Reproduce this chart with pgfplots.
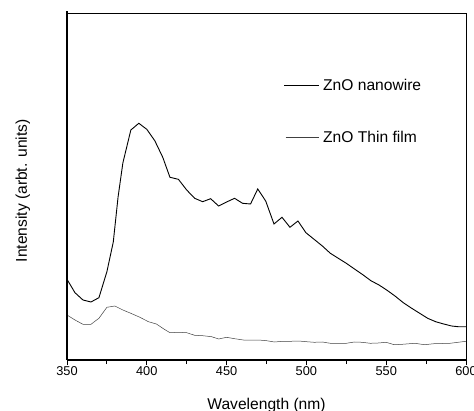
\documentclass[border=0pt]{standalone}
\usepackage{fontspec}
\setmainfont{Liberation Sans}
\usepackage{pgfplots}
\pgfplotsset{compat=1.18}
\usetikzlibrary{calc}

\begin{document}
\begin{tikzpicture}
\begin{axis}[
  name=ax,
  width=399bp, height=347bp, scale only axis,
  xmin=350, xmax=600, ymin=0, ymax=347,
  axis line style={line width=0.9bp},
  xtick={350,400,...,600}, minor x tick num=1,
  ytick=\empty,
  xtick pos=bottom, tick align=outside,
  major tick length=5bp, minor tick length=4bp,
  every tick/.style={line width=0.9bp, black},
  /pgf/number format/assume math mode=true,
  tick label style={font=\fontsize{12.8bp}{15bp}\selectfont},
  xticklabel style={inner sep=1bp},
  xlabel={Wavelength (nm)},
  ylabel={Intensity (arbt. units)},
  label style={font=\fontsize{15.6bp}{18bp}\selectfont},
  xlabel style={at={(axis description cs:0.5,0)}, anchor=base, yshift=-49bp},
  ylabel style={at={(axis description cs:-0.1003,0.4876)}, anchor=base},
  clip=false,
]

% ZnO nanowire
\addplot[black, line width=0.9bp] coordinates {
(350,80.7) (355,67.3) (360,60) (365,58) (370,62.3) (375,88.3) (379,118)
(382,163) (385,197) (390,230) (395,236.7) (400,230.7) (405,219.3) (410,202.7)
(414.5,182.7) (419.8,180.7) (425,170) (430,161.7) (435,158.3) (440,161.3)
(445,154) (450,158) (455,161.7) (460,156.7) (465,156) (469.5,171) (474.5,159)
(479.7,136) (484.7,142.7) (489.7,132.7) (494.7,139) (499.7,127.3) (504.8,120.7)
(510,114) (515,106.7) (520,101.7) (525,96.7) (530.4,90.7) (535.6,85) (540.4,79.3)
(545.5,75) (550.3,70) (555.5,64) (560.7,57.3) (566,51.7) (571,46.7) (576,41.7)
(581,38.3) (586,36) (591,34) (595,33.3) (600,33.3)
};

% ZnO thin film
\addplot[black!75, line width=0.5bp] coordinates {
(350,45) (355,40) (360,35.7) (365,35.7) (370,41.7) (375,52.7) (380,54)
(385,50) (390,46.7) (395.7,42.7) (401,38.3) (406,36) (410,31.7) (414.5,27.3)
(420,27.7) (425,27.3) (430,24.7) (435,24.3) (440.6,23.3) (445,21) (450,22.7)
(455,21.3) (460.5,20) (465,20) (470,20) (475,19.3) (480,18) (485,18.7)
(490,18.7) (495,19) (500,18.3) (505,17.7) (510,18) (515,16.7) (520,16.7)
(525,16.7) (530,18) (535,17.7) (540,16.7) (545,17) (550,17.7) (555,15.3)
(560,15.7) (568,16.7) (574,15.3) (580,16.3) (590,16.7) (600,18.7)
};

\draw[line width=1.6bp] (axis cs:350,0) -- (axis cs:350,349);
\draw[line width=1.6bp] (axis cs:350,0) -- (axis cs:600,0);

\draw[black, line width=0.9bp] (axis cs:486,275) -- (axis cs:507.9,275);
\node[anchor=west, inner sep=0pt, font=\fontsize{15.6bp}{18bp}\selectfont]
  at (axis cs:510.4,275) {ZnO nanowire};
\draw[black!75, line width=0.5bp] (axis cs:487,223) -- (axis cs:507.9,223);
\node[anchor=west, inner sep=0pt, font=\fontsize{15.6bp}{18bp}\selectfont]
  at (axis cs:510.4,223) {ZnO Thin film};
\end{axis}
\pgfresetboundingbox
\path ($(ax.south west)+(-67bp,-51bp)$) rectangle ++(474bp,411bp);
\end{tikzpicture}
\end{document}
